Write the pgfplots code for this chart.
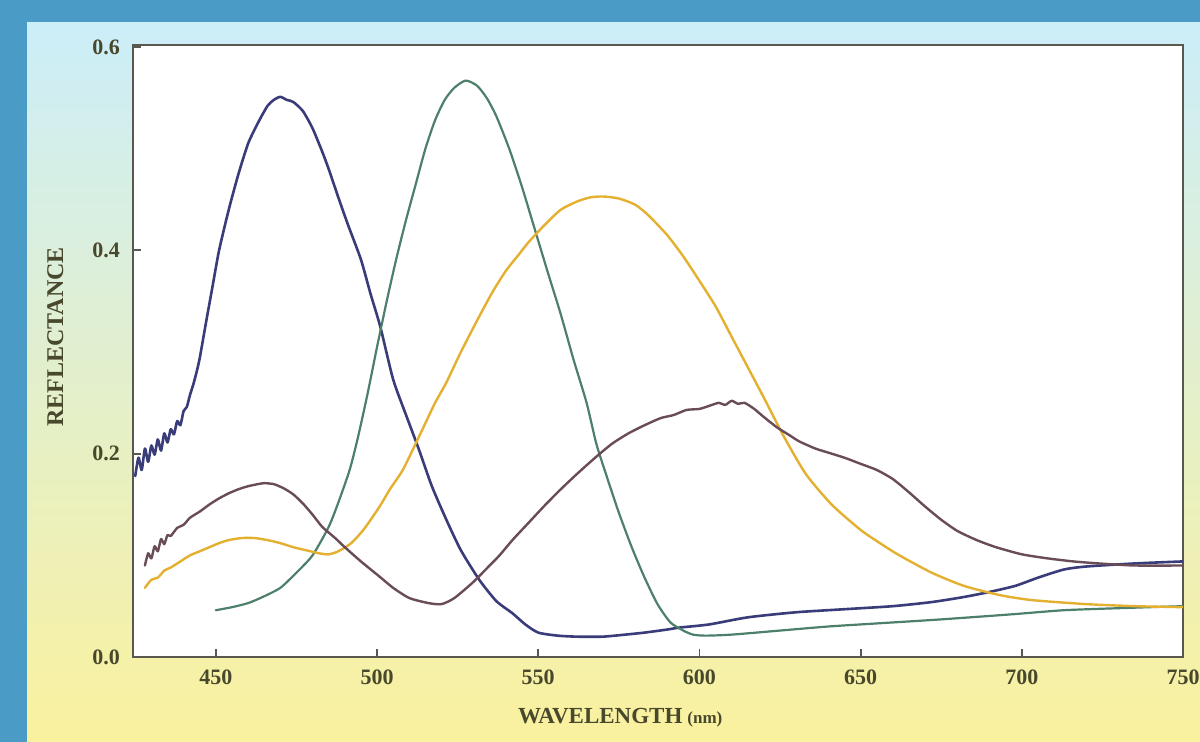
\documentclass[border=0pt]{standalone}
\usepackage{fontspec}
\setmainfont{Liberation Serif}
\usepackage{pgfplots}
\pgfplotsset{compat=1.18}
\definecolor{frameblue}{RGB}{74,155,197}
\definecolor{paneltop}{RGB}{204,238,249}
\definecolor{panelmid}{RGB}{228,242,212}
\definecolor{panelbot}{RGB}{250,241,158}
\definecolor{axisgray}{RGB}{88,88,80}
\definecolor{labelc}{RGB}{72,72,44}
\definecolor{navy}{RGB}{58,60,122}
\definecolor{teal}{RGB}{76,128,106}
\definecolor{gold}{RGB}{228,176,48}
\definecolor{mauve}{RGB}{106,76,88}

\pgfplotstableread{
x y
425 0.178
426 0.196
427 0.184
428 0.205
429 0.192
430 0.208
431 0.199
432 0.214
433 0.203
434 0.22
435 0.211
436 0.224
437 0.219
438 0.232
439 0.228
440 0.242
441 0.246
442 0.258
443 0.268
444 0.28
445 0.294
447 0.33
449 0.365
451 0.40
454 0.44
457 0.475
460 0.505
463 0.525
466 0.542
468 0.548
470 0.551
472 0.548
474 0.546
477 0.537
480 0.52
483 0.497
485 0.48
488 0.452
491 0.425
495 0.391
498 0.357
501 0.325
505 0.273
509 0.238
513 0.204
517 0.168
521.5 0.135
526 0.105
531.7 0.076
537 0.055
542 0.043
546 0.032
550 0.024
556 0.021
562 0.02
570 0.02
577 0.022
583 0.024
590 0.027
594 0.029
603 0.032
615 0.039
630 0.044
645 0.047
660 0.05
672 0.054
682 0.059
690 0.064
698 0.07
705 0.078
713 0.086
720 0.089
735 0.092
750 0.094
}\navydata

\pgfplotstableread{
x y
450 0.046
455 0.049
460 0.053
464.5 0.059
470 0.068
475 0.083
480 0.1
485 0.128
488 0.152
491.5 0.184
494 0.215
497 0.258
500 0.305
503 0.35
506 0.392
509 0.43
512 0.465
515 0.5
518 0.528
521 0.548
524 0.56
527.5 0.567
531 0.562
534 0.55
537 0.532
541 0.5
545 0.462
549 0.42
553 0.378
557 0.337
561 0.292
565 0.25
568 0.21
571 0.18
575 0.142
579 0.108
583 0.078
587 0.052
591 0.034
595 0.026
598 0.022
602 0.021
610 0.022
625 0.026
640 0.03
655 0.033
675 0.037
697 0.042
713 0.046
730 0.048
750 0.05
}\tealdata

\pgfplotstableread{
x y
428 0.068
430 0.076
432 0.078
434 0.085
436 0.088
439 0.094
442 0.1
445 0.104
448 0.108
451 0.112
454 0.115
458 0.117
462 0.117
466 0.115
470 0.112
474 0.108
478 0.105
482 0.102
485 0.101
488 0.104
492 0.112
496 0.126
500.8 0.148
504 0.165
508 0.184
512 0.21
515 0.23
518 0.25
521.5 0.27
526 0.3
531.7 0.335
536 0.36
540 0.38
544 0.396
547 0.408
552 0.425
557 0.44
562 0.448
566 0.452
570 0.453
575 0.451
580 0.445
584 0.435
590 0.415
595 0.394
600 0.37
605 0.345
610 0.315
615 0.285
620 0.255
626 0.218
633 0.18
641 0.15
650 0.125
656 0.112
662 0.1
672 0.083
682 0.07
693 0.061
703 0.056
720 0.052
735 0.05
750 0.049
}\golddata

\pgfplotstableread{
x y
428 0.09
429 0.102
430 0.097
431 0.109
432 0.104
433 0.116
434 0.111
435 0.12
436 0.119
438 0.127
440 0.13
442 0.137
445 0.143
448 0.15
451 0.156
454 0.161
457 0.165
460 0.168
463 0.17
465 0.171
468 0.17
471 0.166
474 0.16
477 0.151
480 0.14
483 0.128
487 0.117
490 0.108
495 0.094
500.8 0.079
505 0.068
510 0.058
516 0.053
520 0.052
524 0.058
529.6 0.073
534 0.087
538 0.1
542 0.115
547 0.132
552 0.149
557 0.165
562 0.18
568 0.197
573 0.21
578 0.22
583 0.228
588 0.235
592 0.238
596 0.243
600 0.244
603 0.247
606 0.25
608 0.248
610 0.252
612 0.249
614 0.25
617 0.244
620 0.236
624 0.226
628 0.218
631 0.212
636 0.205
640 0.201
645 0.196
650 0.19
655 0.184
660 0.175
665 0.162
670 0.148
675 0.135
680 0.124
686 0.115
692 0.108
700 0.101
708 0.097
716 0.094
724 0.092
735 0.09
750 0.09
}\mauvedata

\begin{document}
\begin{tikzpicture}
\useasboundingbox (0,0) rectangle (600pt,371pt);
\fill[frameblue] (0,0) rectangle (600pt,371pt);
\shade[top color=paneltop, middle color=panelmid, bottom color=panelbot] (13.5pt,0) rectangle (600pt,359.5pt);
\begin{axis}[
  at={(66.5pt,42.5pt)}, anchor=south west,
  scale only axis, width=525pt, height=306pt,
  xmin=424.3, xmax=750, ymin=0, ymax=0.602,
  xtick={450,500,550,600,650,700,750},
  ytick={0,0.2,0.4,0.6},
  y tick label style={/pgf/number format/fixed, /pgf/number format/fixed zerofill, /pgf/number format/precision=1},
  /pgf/number format/assume math mode=true,
  tick pos=left, tick align=inside, major tick length=4pt,
  axis line style={draw=axisgray, line width=1.3pt},
  every tick/.style={draw=axisgray, line width=0.9pt},
  axis background/.style={fill=white},
  ticklabel style={font=\fontsize{11}{13}\selectfont\bfseries, text=labelc},
  every x tick label/.append style={yshift=-3pt},
  every y tick label/.append style={xshift=-3pt},
  xlabel={{\fontsize{11.5}{13}\selectfont\bfseries WAVELENGTH} {\fontsize{8.5}{10}\selectfont\bfseries (nm)}},
  ylabel={\fontsize{12}{14}\selectfont\bfseries REFLECTANCE},
  xlabel style={at={(axis description cs:0.464,-0.1)}, anchor=center, text=labelc},
  ylabel style={at={(axis description cs:-0.074,0.523)}, anchor=center, text=labelc},
  every axis plot/.append style={line join=round, line cap=round},
]
\addplot[navy, line width=1.3pt, smooth, tension=0.4] table[x=x, y=y] {\navydata};
\addplot[teal, line width=1.1pt, smooth, tension=0.4] table[x=x, y=y] {\tealdata};
\addplot[gold, line width=1.2pt, smooth, tension=0.4] table[x=x, y=y] {\golddata};
\addplot[mauve, line width=1.2pt, smooth, tension=0.4] table[x=x, y=y] {\mauvedata};
\end{axis}
\end{tikzpicture}
\end{document}
